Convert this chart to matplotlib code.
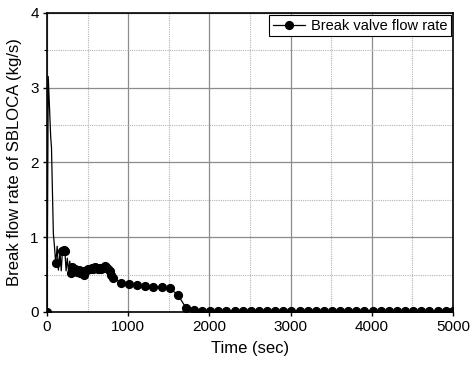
import numpy as np
import matplotlib as mpl
mpl.use("Agg")
import matplotlib.pyplot as plt
from matplotlib.ticker import MultipleLocator

plt.rcParams['font.family'] = ['Liberation Sans', 'DejaVu Sans']

# break valve flow rate (kg/s) vs time (sec)
time = [0, 15, 45, 55, 78, 90, 107, 125, 140, 160, 175, 190, 205, 220, 235,
        250, 265, 280, 295, 310, 330, 350, 370, 390, 410, 430, 450, 470, 490,
        510, 530, 550, 570, 590, 610, 630, 650, 670, 690, 710, 730, 750, 770,
        790, 810, 910, 1010, 1110, 1210, 1310, 1410, 1510, 1610, 1710, 1810,
        1910, 2010, 2110, 2210, 2310, 2410, 2510, 2610, 2710, 2810, 2910, 3010,
        3110, 3210, 3310, 3410, 3510, 3610, 3710, 3810, 3910, 4010, 4110, 4210,
        4310, 4410, 4510, 4610, 4710, 4810, 4910, 5000]
flow = [0.0, 3.15, 2.35, 2.2, 1.05, 0.9, 0.65, 0.88, 0.56, 0.80, 0.55, 0.82,
        0.83, 0.82, 0.55, 0.72, 0.54, 0.68, 0.52, 0.60, 0.55, 0.58, 0.53, 0.56,
        0.52, 0.55, 0.50, 0.55, 0.56, 0.58, 0.57, 0.59, 0.58, 0.60, 0.59, 0.58,
        0.59, 0.58, 0.59, 0.62, 0.60, 0.58, 0.55, 0.50, 0.46, 0.39, 0.37, 0.355,
        0.345, 0.34, 0.335, 0.32, 0.23, 0.06, 0.02, 0.012, 0.01, 0.01, 0.01,
        0.01, 0.01, 0.01, 0.01, 0.01, 0.01, 0.01, 0.01, 0.01, 0.01, 0.01, 0.01,
        0.01, 0.01, 0.01, 0.01, 0.01, 0.01, 0.01, 0.01, 0.01, 0.01, 0.01, 0.01,
        0.01, 0.01, 0.01, 0.01]

# points that carry a symbol (spike bottoms and the initial drop have none)
marked = [0, 6, 11, 12, 13] + list(range(18, len(time)))

fig = plt.figure(figsize=(4.73, 3.68), dpi=100)
ax = fig.add_axes([0.0994, 0.1522, 0.8583, 0.8125])

ax.plot(time, flow, color='black', linewidth=0.9, marker='o', markersize=5.6,
        markevery=marked, label='Break valve flow rate', zorder=3)

ax.set_xlim(0, 5000)
ax.set_ylim(0, 4)
ax.xaxis.set_major_locator(MultipleLocator(1000))
ax.xaxis.set_minor_locator(MultipleLocator(500))
ax.yaxis.set_major_locator(MultipleLocator(1))
ax.yaxis.set_minor_locator(MultipleLocator(0.5))

ax.grid(which='major', color='#8c8c8c', linewidth=0.9, linestyle='-')
ax.grid(which='minor', color='#b4b4b4', linewidth=0.8, linestyle=(0, (1, 1)))
ax.tick_params(which='major', direction='out', length=3, width=1,
               labelsize=11, colors='black', pad=3)
ax.tick_params(which='minor', direction='out', length=2, width=0.8)
ax.tick_params(axis='x', which='minor', length=0)
for s in ax.spines.values():
    s.set_linewidth(1.2)

ax.set_xlabel('Time (sec)', fontsize=12, labelpad=5)
ax.set_ylabel('Break flow rate of SBLOCA (kg/s)', fontsize=12, labelpad=6)

legend = ax.legend(loc='upper right', fontsize=10.5, fancybox=False,
                   framealpha=1, edgecolor='black', borderaxespad=0.15,
                   handlelength=2.2, borderpad=0.25, handletextpad=0.4)
legend.get_frame().set_linewidth(0.8)

plt.savefig('out.png', dpi=100)
